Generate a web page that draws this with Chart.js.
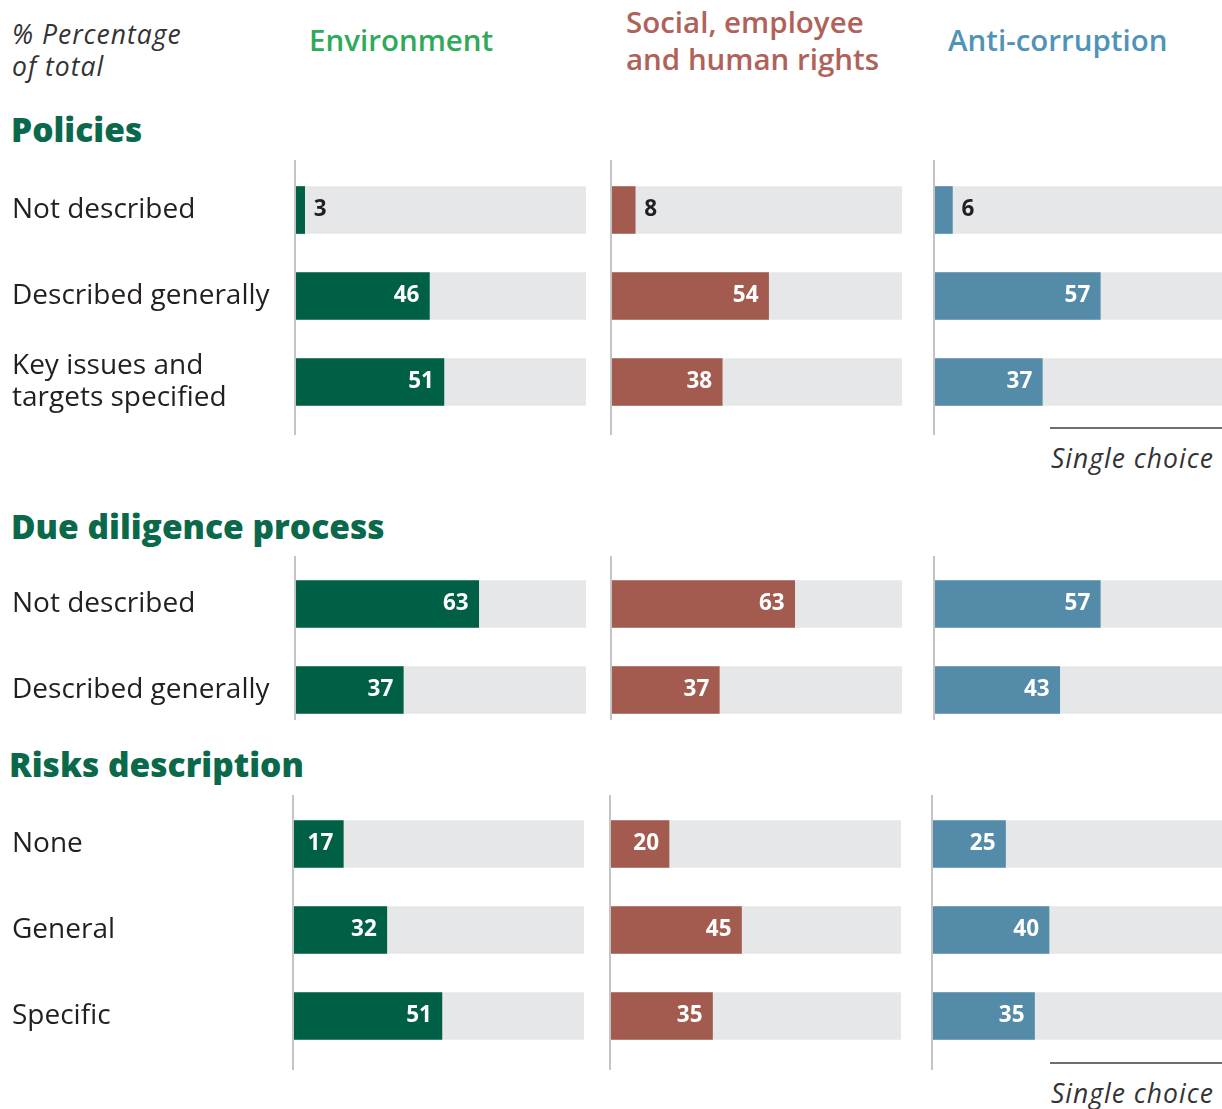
<!DOCTYPE html>
<html>
<head>
<meta charset="utf-8">
<script src="https://cdn.jsdelivr.net/npm/chart.js@4/dist/chart.umd.min.js"></script>
<style>
  html, body { margin: 0; padding: 0; background: #fff; }
  #page { position: relative; width: 1222px; height: 1109px; overflow: hidden; font-family: 'Open Sans', sans-serif; }
  .txt { position: absolute; white-space: nowrap; }
  .note { font-style: italic; font-size: 26.5px; letter-spacing: 1px; color: #333; line-height: 32px; }
  .colhead { font-weight: 600; font-size: 29.5px; line-height: 37px; }
  .section { font-weight: 800; font-size: 33.5px; color: #0b694b; line-height: 36px; }
  .rule { position: absolute; height: 2px; background: #6d6e71; }
  canvas { position: absolute; }
</style>
</head>
<body>
<div id="page">
  <div class="txt note" style="left:12px; top:18px;">% Percentage<br>of total</div>
  <div class="txt colhead" style="left:309px; top:21px; color:#2fa95a;">Environment</div>
  <div class="txt colhead" style="left:626px; top:3px; color:#b0625a;">Social, employee<br>and human rights</div>
  <div class="txt colhead" style="left:948px; top:21px; color:#4f94b6;">Anti-corruption</div>

  <div class="txt section" style="left:11px; top:111px;">Policies</div>
  <div class="txt section" style="left:11px; top:508px;">Due diligence process</div>
  <div class="txt section" style="left:9px; top:746px;">Risks description</div>

  <div class="rule" style="left:1050px; top:427px; width:172px;"></div>
  <div class="txt note" style="left:1051px; top:442px;">Single choice</div>
  <div class="rule" style="left:1050px; top:1062px; width:172px;"></div>
  <div class="txt note" style="left:1051px; top:1077px;">Single choice</div>
</div>
<script>
// data
const policyLabels = ['Not described', 'Described generally', ['Key issues and', 'targets specified']];
const policyEnv = [3, 46, 51];
const policySoc = [8, 54, 38];
const policyAnti = [6, 57, 37];

const ddLabels = ['Not described', 'Described generally'];
const ddEnv = [63, 37];
const ddSoc = [63, 37];
const ddAnti = [57, 43];

const riskLabels = ['None', 'General', 'Specific'];
const riskEnv = [17, 32, 51];
const riskSoc = [20, 45, 35];
const riskAnti = [25, 40, 35];

const colColors = ['#006045', '#a35b50', '#548ba9'];
const ROW = 86;
const BAR_W = 290;

// layout for each section: axis line x per column, line top/bottom, first bar center
const sections = [
  { labels: policyLabels, values: [policyEnv, policySoc, policyAnti], lineX: [296, 612, 935], lineTop: 160, lineBottom: 435, firstCenter: 210 },
  { labels: ddLabels, values: [ddEnv, ddSoc, ddAnti], lineX: [296, 612, 935], lineTop: 556, lineBottom: 720, firstCenter: 604 },
  { labels: riskLabels, values: [riskEnv, riskSoc, riskAnti], lineX: [294, 611, 933], lineTop: 795, lineBottom: 1070, firstCenter: 844 }
];

const axisLine = {
  id: 'axisLine',
  beforeDatasetsDraw(chart, args, opts) {
    const ctx = chart.ctx;
    ctx.save();
    ctx.strokeStyle = '#c4c4c4';
    ctx.lineWidth = 2;
    ctx.beginPath();
    ctx.moveTo(chart.chartArea.left - 1, 0);
    ctx.lineTo(chart.chartArea.left - 1, opts.length);
    ctx.stroke();
    ctx.restore();
  }
};

const valueLabels = {
  id: 'valueLabels',
  afterDatasetsDraw(chart) {
    const ctx = chart.ctx;
    const meta = chart.getDatasetMeta(0);
    const data = chart.data.datasets[0].data;
    ctx.save();
    ctx.font = 'bold 22.5px "Open Sans", sans-serif';
    ctx.textBaseline = 'middle';
    meta.data.forEach((bar, i) => {
      const v = data[i];
      if (v < 10) {
        ctx.fillStyle = '#231f20';
        ctx.textAlign = 'left';
        ctx.fillText(String(v), bar.x + 9, bar.y);
      } else {
        ctx.fillStyle = '#ffffff';
        ctx.textAlign = 'right';
        ctx.fillText(String(v), bar.x - 10, bar.y);
      }
    });
    ctx.restore();
  }
};

const page = document.getElementById('page');

sections.forEach(sec => {
  const n = sec.labels.length;
  const bottom = Math.max(sec.lineBottom, sec.firstCenter + (n - 1) * ROW + ROW / 2);
  const height = bottom - sec.lineTop;
  const padTop = sec.firstCenter - ROW / 2 - sec.lineTop;
  const padBottom = height - padTop - n * ROW;

  sec.values.forEach((vals, c) => {
    const withLabels = c === 0;
    const left = withLabels ? 0 : sec.lineX[c] - 2;
    const width = sec.lineX[c] - left + BAR_W;
    const canvas = document.createElement('canvas');
    canvas.width = width;
    canvas.height = height;
    canvas.style.left = left + 'px';
    canvas.style.top = sec.lineTop + 'px';
    page.appendChild(canvas);

    new Chart(canvas, {
      type: 'bar',
      data: {
        labels: sec.labels,
        datasets: [
          { data: vals, backgroundColor: colColors[c], order: 0, barThickness: 47, grouped: false },
          { data: vals.map(() => 100), backgroundColor: '#e6e7e8', order: 1, barThickness: 47, grouped: false }
        ]
      },
      options: {
        indexAxis: 'y',
        responsive: false,
        animation: false,
        events: [],
        layout: { padding: { top: padTop, bottom: padBottom, left: withLabels ? 12 : 2, right: 0 } },
        plugins: {
          legend: { display: false },
          tooltip: { enabled: false },
          axisLine: { length: sec.lineBottom - sec.lineTop }
        },
        scales: {
          x: { min: 0, max: 100, display: false },
          y: {
            display: withLabels,
            grid: { display: false },
            border: { display: false },
            afterFit(scale) {
              if (withLabels) scale.width = sec.lineX[0] - 12;
              scale.paddingTop = 0;
              scale.paddingBottom = 0;
            },
            ticks: {
              crossAlign: 'far',
              color: '#231f20',
              font: { family: '"Open Sans", sans-serif', size: 28, lineHeight: 1.15 },
              padding: 0
            }
          }
        }
      },
      plugins: [axisLine, valueLabels]
    });
  });
});
</script>
</body>
</html>
